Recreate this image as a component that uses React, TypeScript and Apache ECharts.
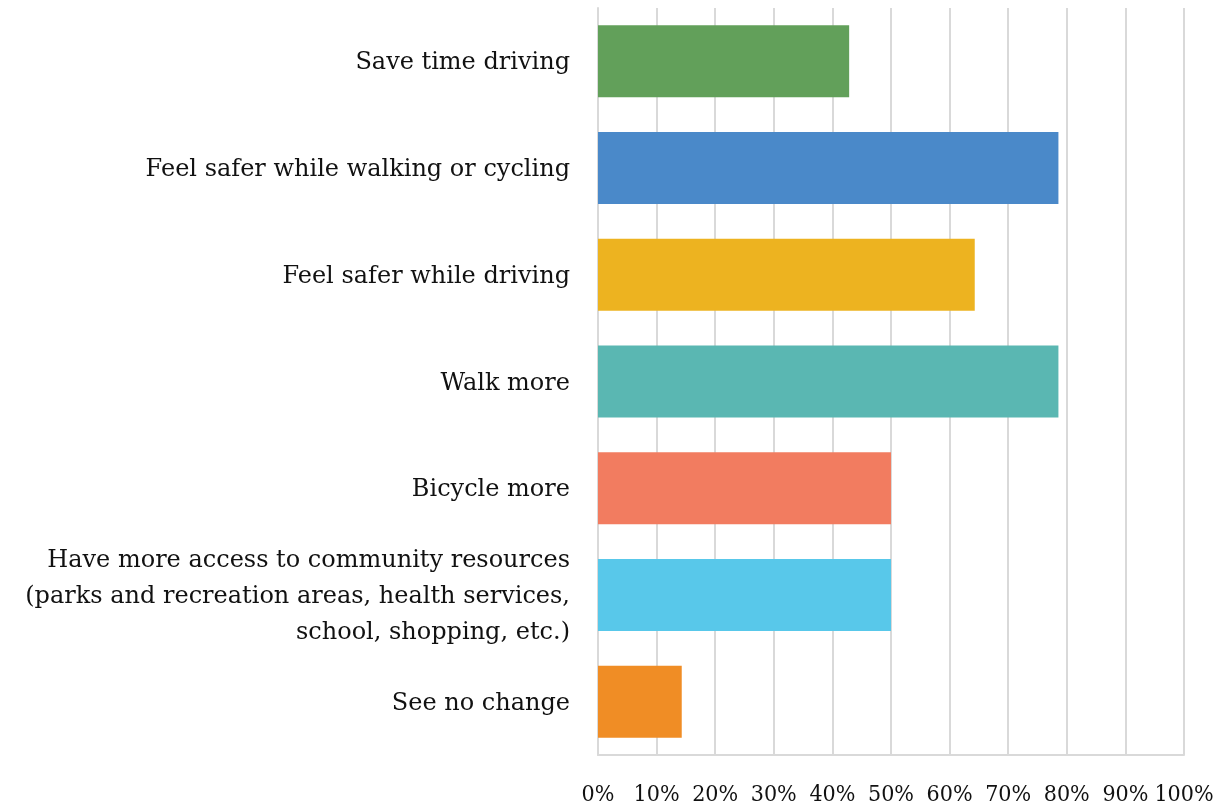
import React, { useEffect, useRef } from "react";
import * as echarts from "echarts";

const categories = [
  "Save time driving",
  "Feel safer while walking or cycling",
  "Feel safer while driving",
  "Walk more",
  "Bicycle more",
  "Have more access to community resources\n(parks and recreation areas, health services,\nschool, shopping, etc.)",
  "See no change",
];
const values = [42.86, 78.57, 64.29, 78.57, 50.0, 50.0, 14.29];
const colors = ["#62A05A", "#4A89C9", "#EDB320", "#5AB7B2", "#F27C60", "#58C8EA", "#F08D25"];

export default function App() {
  const ref = useRef<HTMLDivElement>(null);
  useEffect(() => {
    if (!ref.current) return;
    const chart = echarts.init(ref.current, null, { renderer: "svg" });
    const cats = [...categories].reverse();
    const vals = [...values].reverse();
    const cols = [...colors].reverse();
    chart.setOption({
      animation: false,
      grid: {
        left: 598,
        right: 38,
        top: 8,
        bottom: 51,
        containLabel: false,
        outerBoundsMode: "none",
      },
      xAxis: {
        type: "value",
        min: 0,
        max: 100,
        interval: 10,
        axisLabel: {
          formatter: "{value}%",
          fontFamily: "DejaVu Serif Condensed",
          fontSize: 23,
          color: "#111",
          margin: 26,
        },
        axisLine: { show: true, lineStyle: { color: "#d9d9d9", width: 2 } },
        axisTick: { show: false },
        splitLine: { show: true, lineStyle: { color: "#d9d9d9", width: 2 } },
      },
      yAxis: {
        type: "category",
        data: cats,
        axisLine: { show: true, lineStyle: { color: "#d9d9d9", width: 2 } },
        axisTick: { show: false },
        axisLabel: {
          fontFamily: "DejaVu Serif",
          fontSize: 24,
          color: "#111",
          margin: 28,
          lineHeight: 36,
          align: "right",
        },
      },
      series: [
        {
          type: "bar",
          data: vals.map((v, i) => ({ value: v, itemStyle: { color: cols[i] } })),
          barCategoryGap: "32.5%",
        },
      ],
    });
    return () => chart.dispose();
  }, []);
  return (
    <div
      ref={ref}
      style={{ position: "fixed", left: 0, top: 0, width: 1222, height: 806 }}
    />
  );
}
